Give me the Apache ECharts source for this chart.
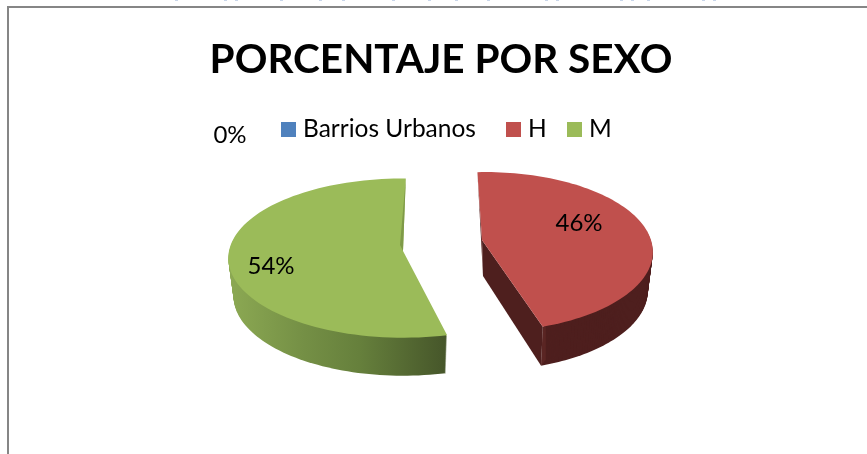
<!DOCTYPE html>
<html><head><meta charset="utf-8">
<style>html,body{margin:0;padding:0;background:#fff}#c{width:867px;height:454px}</style>
<script src="https://cdn.jsdelivr.net/npm/echarts@6/dist/echarts.min.js"></script>
</head><body><div id="c"></div>
<script>
const titleText = 'PORCENTAJE POR SEXO';
const categories = ['Barrios Urbanos', 'H', 'M'];
const shares = [0, 46, 54];
const colors = ['#4f81bd', '#c0504d', '#9bbb59'];

const FONT = 'Lato';
const total = shares.reduce((a, b) => a + b, 0);
const starts = shares.map((_, i) => shares.slice(0, i).reduce((a, b) => a + b, 0));
const legendLefts = [281, 506, 567];
const clippedMarks = [175, 224, 235, 280, 319, 342, 392, 428, 455, 487, 545, 556, 620, 631, 647, 702, 713];

// Projection of each exploded slice: apex, ellipse, perspective, rotation, wall depth
const frames = [
  {ax: 403, ay: 251, ex: 403, rx: 172, ry: 80, k: 0.12, rot: 0, depth: 38, shrink: 0.97, label: [230, 135]},
  {ax: 482, ay: 240, ex: 485, rx: 166, ry: 78, k: 0.148, rot: -3, depth: 39, shrink: 0.97, label: [579, 223], visible: [60, 0]},
  {ax: 403, ay: 251, ex: 403, rx: 174, ry: 79, k: 0.089, rot: 1, depth: 38, shrink: 0.97, label: [271, 266], visible: [0, -40]}
];

function project(f, deg, level) {
  const t = deg * Math.PI / 180, c = Math.cos(t), s = 1 / (1 + f.k * c);
  const m = 1 - (1 - f.shrink) * level;
  return [f.ex + f.rx * m * Math.sin(t) * s, f.ay - f.ry * c * s + f.depth * level];
}
function arc(f, a, b, level) {
  const pts = [], n = 90;
  for (let i = 0; i <= n; i++) pts.push(project(f, a + (b - a) * i / n, level));
  return pts;
}
const poly = (points, fill) => ({type: 'polygon', shape: {points}, style: {fill, stroke: null}});

function renderSlice(i, api) {
  const f = frames[i];
  const a = f.rot + 360 * starts[i] / total, b = a + 360 * api.value(0) / total;
  const children = [];
  if (shares[i] > 0) {
    const top = arc(f, a, b, 0), low = arc(f, a, b, 1);
    const apex = [f.ax, f.ay], apexLow = [f.ax + 1, f.ay + f.depth - 3];
    const wallFill = i === 1 ? '#4e1f1e' : new echarts.graphic.LinearGradient(229, 0, 446, 0, [
      {offset: 0, color: '#8ca953'}, {offset: 0.35, color: '#748f45'},
      {offset: 0.6, color: '#66803c'}, {offset: 1, color: '#46562a'}
    ], true);
    // extruded outer wall: stacked copies of the visible arc
    for (let lv = f.depth; lv >= 1; lv--) {
      children.push(poly(arc(f, a + f.visible[0], b + f.visible[1], lv / f.depth), wallFill));
    }
    if (i === 1) {
      children.push(poly([apex, top[top.length - 1], low[low.length - 1], apexLow], '#4e1f1e'));
      children.push(poly([top[top.length - 1], low[low.length - 1], [top[top.length - 1][0] + 3, low[low.length - 1][1] - 6], [top[top.length - 1][0] + 3, top[top.length - 1][1]]], '#5a2523'));
      children.push(poly([top[0], apex, apexLow], '#5a2523'));
    }
    children.push(poly([apex].concat(top), colors[i]));
    if (i === 2) {
      children.push(poly([top[top.length - 1], apex, [f.ax - 3, f.ay - 6]], '#7f9a48'));
    }
  }
  children.push({type: 'text', z2: 10, style: {
    x: f.label[0], y: f.label[1], text: api.value(0) + '%', fill: '#000',
    font: '24px ' + FONT, textAlign: 'center', textVerticalAlign: 'middle'
  }});
  return {type: 'group', children};
}

const chart = echarts.init(document.getElementById('c'), null, {renderer: 'canvas'});
chart.setOption({
  animation: false,
  backgroundColor: '#fff',
  title: {text: titleText, left: 436, top: 34, textAlign: 'center',
    textStyle: {fontFamily: FONT, fontSize: 40.5, fontWeight: 'bold', color: '#000'}},
  legend: categories.map((name, i) => ({
    left: legendLefts[i], top: 117, itemWidth: 15, itemHeight: 15, icon: 'rect', padding: 0,
    data: [name], textStyle: {fontFamily: FONT, fontSize: 24.5, color: '#000', padding: [0, 0, 0, 2]}
  })),
  graphic: [
    {type: 'polyline', shape: {points: [[8, 454], [8, 7], [867, 7]]}, style: {stroke: '#868686', lineWidth: 2, fill: null}}
  ].concat(clippedMarks.map(x => ({type: 'rect', shape: {x, y: 0, width: 3, height: 1}, style: {fill: '#c9d6ea'}}))),
  series: categories.map((name, i) => ({
    type: 'custom', name, coordinateSystem: 'none', silent: true,
    itemStyle: {color: colors[i]},
    data: [[shares[i]]],
    renderItem: (params, api) => renderSlice(i, api)
  }))
});
</script></body></html>
